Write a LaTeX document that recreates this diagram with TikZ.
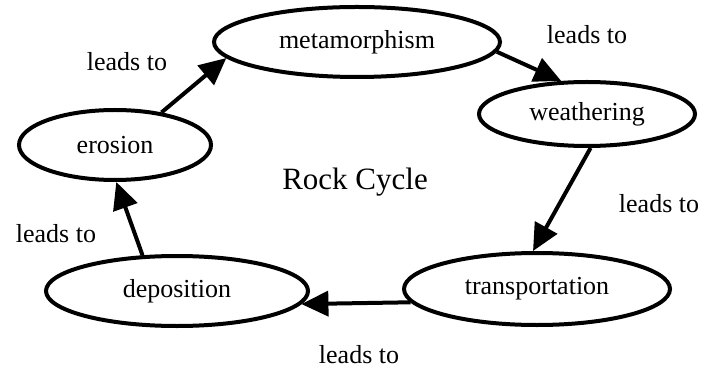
\documentclass[tikz,border=0pt]{standalone}
\usepackage{fontspec}
\setmainfont{Liberation Serif}
\usepackage{tikz}
\usetikzlibrary{arrows.meta,positioning,shapes.geometric}
\definecolor{ink}{HTML}{000000}
\tikzset{
  stage/.style={ellipse,draw=ink,line width=2pt,inner sep=0pt,
                font=\fontsize{13}{15}\selectfont},
  leadarr/.style={-{Triangle[length=13.5pt,width=12.5pt]},line width=2pt,
                  draw=ink},
  leadlbl/.style={font=\fontsize{13}{15}\selectfont,color=ink},
  titlelbl/.style={font=\fontsize{15.5}{18}\selectfont,color=ink}
}
\begin{document}
\begin{tikzpicture}[x=0.5pt,y=-0.5pt]
    \path[use as bounding box,fill=white] (0,0) rectangle (715,368);
    % the five stages of the cycle
    \node[stage,minimum width=143pt,minimum height=35pt] (meta) at (357,42)
      {metamorphism};
    \node[stage,minimum width=108pt,minimum height=32pt] (weath) at (587,114)
      {weathering};
    \node[stage,minimum width=133pt,minimum height=36pt] (trans) at (537,289)
      {transportation};
    \node[stage,minimum width=131pt,minimum height=35pt] (depo) at (177,291)
      {deposition};
    \node[stage,minimum width=96pt,minimum height=35pt] (eros) at (115,145)
      {erosion};
    \node[titlelbl] (title) at (355,182) {Rock Cycle};
    % connectors
    \draw[leadarr] (eros.35) -- (meta.187);
    \draw[leadarr] (meta.-4) -- (weath.128);
    \draw[leadarr] (weath.-84) -- (trans.96);
    \draw[leadarr] (trans.186) -- (depo.-6);
    \draw[leadarr] (depo.134) -- (eros.-88);
    % labels beside the arrows
    \node[leadlbl] (lblA) at (127,62) {leads to};
    \node[leadlbl] (lblB) at (587,35) {leads to};
    \node[leadlbl] (lblC) at (659,204) {leads to};
    \node[leadlbl] (lblD) at (359,355) {leads to};
    \node[leadlbl] (lblE) at (56,234) {leads to};
\end{tikzpicture}
\end{document}
